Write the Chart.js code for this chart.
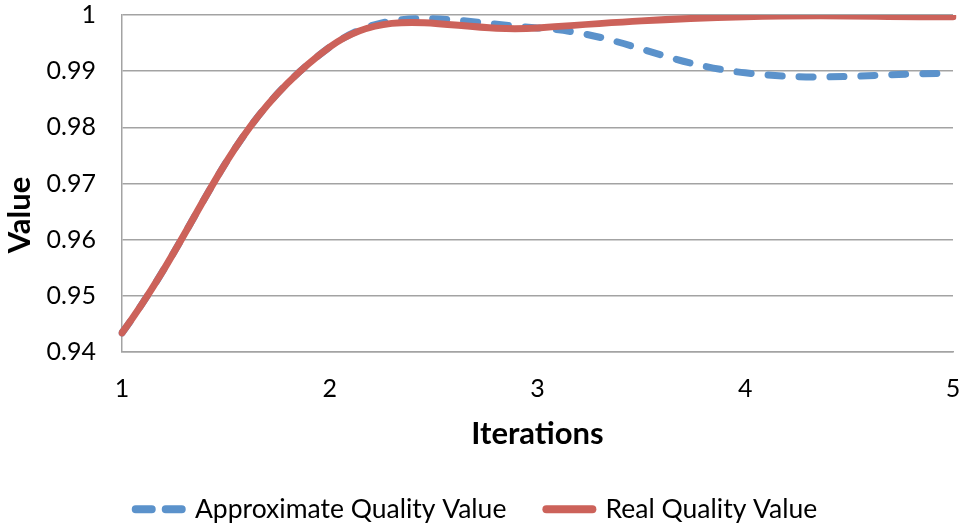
<!DOCTYPE html>
<html>
<head>
<meta charset="utf-8">
<script src="https://cdn.jsdelivr.net/npm/chart.js@4/dist/chart.umd.min.js"></script>
<style>
  html, body { margin: 0; padding: 0; background: #ffffff; }
  #wrap { width: 963px; height: 524px; }
</style>
</head>
<body>
<div id="wrap"><canvas id="chart" width="963" height="524"></canvas></div>
<script>
// Iteration numbers along the x axis
const iterations = ['1', '2', '3', '4', '5'];
// Quality estimates per iteration
const approximateQuality = [0.9434, 0.9943, 0.9977, 0.9897, 0.9896];
const realQuality = [0.9434, 0.9943, 0.9977, 0.9997, 0.9997];
// Value axis range
const yMin = 0.94, yMax = 1, yStep = 0.01;
const yTitle = 'Value';
const xTitle = 'Iterations';

const BLUE = '#5b92cb';
const RED = '#cc625a';
const GRID = '#a3a3a3';
const FONT = 'Lato, "Open Sans", sans-serif';
const LEGEND_HEIGHT = 68;

// Keep the bottom legend to a fixed band while its items stay widely spaced
const legendBand = {
  id: 'legendBand',
  beforeLayout(chart) {
    const lg = chart.legend;
    if (lg && !lg._bandWrapped) {
      const fit = lg.fit.bind(lg);
      lg.fit = function () { fit(); this.height = LEGEND_HEIGHT; };
      lg._bandWrapped = true;
    }
  }
};

// Vertical axis title, set a little below the middle of the plot
const valueTitle = {
  id: 'valueTitle',
  afterDraw(chart) {
    const ctx = chart.ctx;
    ctx.save();
    ctx.translate(20, 215);
    ctx.rotate(-Math.PI / 2);
    ctx.font = 'bold 31px ' + FONT;
    ctx.fillStyle = '#000';
    ctx.textAlign = 'center';
    ctx.textBaseline = 'middle';
    ctx.fillText(yTitle, 0, 0);
    ctx.restore();
  }
};

// Legend samples drawn as the series' own stroke (dash, cap, width)
function legendItems(chart) {
  const items = Chart.defaults.plugins.legend.labels.generateLabels(chart);
  items.forEach((it) => {
    const ds = chart.data.datasets[it.datasetIndex];
    it.pointStyle = 'line';
    it.lineDash = ds.borderDash ? [16, 14] : [];
    it.lineCap = 'round';
    it.lineWidth = 8;
    it.strokeStyle = ds.borderColor;
    it.fillStyle = ds.borderColor;
  });
  return items.sort((a, b) => a.datasetIndex - b.datasetIndex);
}

new Chart(document.getElementById('chart'), {
  type: 'line',
  data: {
    labels: iterations,
    datasets: [
      {
        label: 'Approximate Quality Value',
        data: approximateQuality,
        borderColor: BLUE,
        backgroundColor: BLUE,
        borderWidth: 7,
        borderDash: [14, 17],
        borderCapStyle: 'round',
        pointRadius: 0,
        tension: 0.4,
        order: 1
      },
      {
        label: 'Real Quality Value',
        data: realQuality,
        borderColor: RED,
        backgroundColor: RED,
        borderWidth: 7,
        borderCapStyle: 'round',
        pointRadius: 0,
        tension: 0.4,
        order: 0
      }
    ]
  },
  plugins: [legendBand, valueTitle],
  options: {
    responsive: false,
    animation: false,
    layout: { padding: { top: 15, right: 10, left: 0, bottom: 0 } },
    elements: { line: { capBezierPoints: false } },
    plugins: {
      tooltip: { enabled: false },
      legend: {
        position: 'bottom',
        labels: {
          usePointStyle: true,
          pointStyle: 'line',
          pointStyleWidth: 46,
          padding: 40,
          color: '#000',
          font: { family: FONT, size: 26.5 },
          generateLabels: legendItems
        }
      }
    },
    scales: {
      x: {
        type: 'category',
        offset: false,
        grid: { display: false, drawTicks: false },
        border: { display: true, color: GRID, width: 1.5 },
        ticks: { color: '#000', padding: 22, font: { family: FONT, size: 25 }, maxRotation: 0 },
        title: {
          display: true, text: xTitle, color: '#000',
          font: { family: FONT, size: 31, weight: 'bold', lineHeight: 1 },
          padding: { top: 0, bottom: 7 }
        },
        afterFit: (s) => { s.height = 104; s.paddingLeft = 0; s.paddingRight = 0; }
      },
      y: {
        min: yMin, max: yMax,
        grid: { color: GRID, lineWidth: 1.5, drawTicks: false },
        border: { display: true, color: GRID, width: 1.5 },
        ticks: {
          stepSize: yStep, color: '#000', padding: 26,
          font: { family: FONT, size: 25 },
          callback: (v) => String(+v.toFixed(2))
        },
        title: { display: false },
        afterFit: (s) => { s.width = 122; s.paddingTop = 0; s.paddingBottom = 0; }
      }
    }
  }
});
</script>
</body>
</html>
